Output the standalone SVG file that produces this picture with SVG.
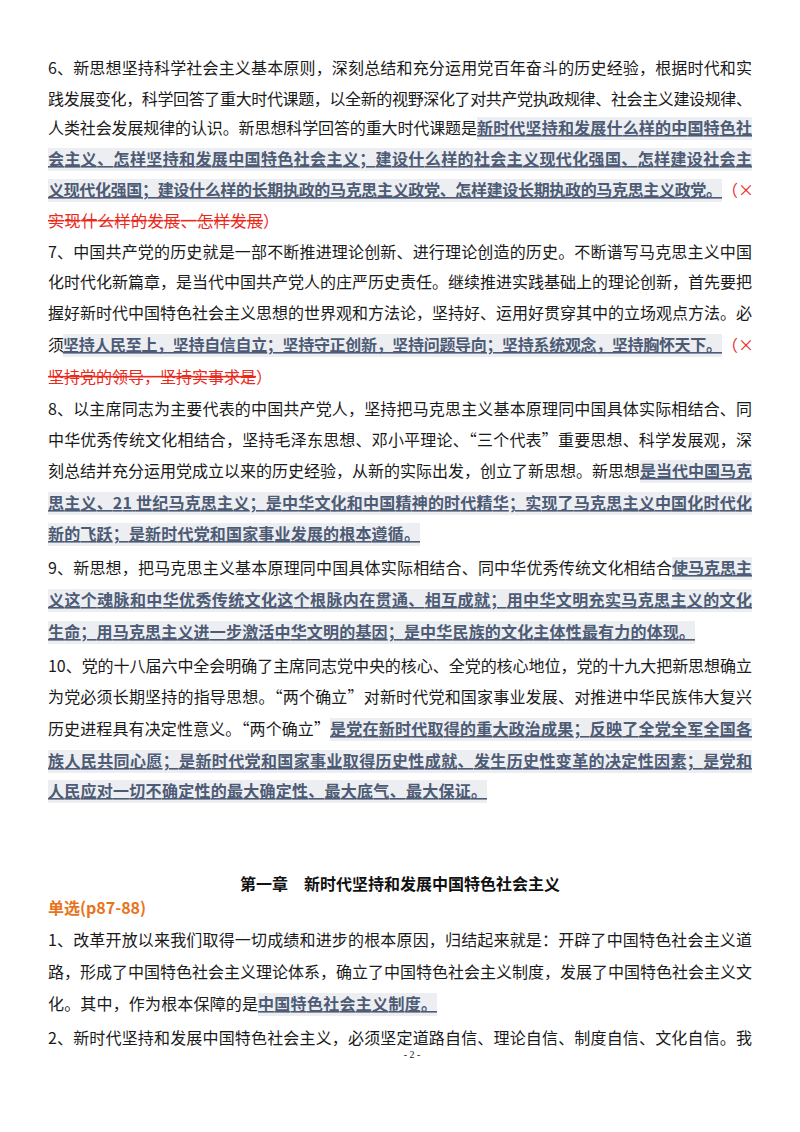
<svg xmlns="http://www.w3.org/2000/svg" width="800" height="1132" viewBox="0 0 800 1132">
<style>
text{font-family:"Noto Sans CJK SC","Liberation Sans",sans-serif;font-size:16px;fill:#1a1a1a}
.h{font-weight:bold;fill:#4d5b75;text-decoration:underline}
.r{fill:#e8291c}
.s{fill:#e8291c;text-decoration:line-through}
.bg{fill:#eceef2}
.t{font-weight:bold;fill:#111}
.o{font-weight:bold;fill:#e8731c}
</style>
<rect width="800" height="1132" fill="#fff"/>
<g id="backgrounds">
<rect class="bg" x="477" y="117" width="275" height="23"/>
<rect class="bg" x="48" y="148" width="704" height="23"/>
<rect class="bg" x="48" y="179" width="674" height="23"/>
<rect class="bg" x="63" y="334" width="659" height="23"/>
<rect class="bg" x="640" y="460" width="112" height="23"/>
<rect class="bg" x="48" y="492" width="704" height="23"/>
<rect class="bg" x="48" y="523" width="372" height="23"/>
<rect class="bg" x="672" y="557" width="80" height="23"/>
<rect class="bg" x="48" y="589" width="704" height="23"/>
<rect class="bg" x="48" y="621" width="647" height="23"/>
<rect class="bg" x="330" y="718" width="422" height="23"/>
<rect class="bg" x="48" y="750" width="704" height="23"/>
<rect class="bg" x="48" y="780" width="439" height="23"/>
<rect class="bg" x="258" y="993" width="179" height="23"/>
</g>
<g id="p6">
<text x="48" y="74" textLength="704" lengthAdjust="spacing">6、新思想坚持科学社会主义基本原则，深刻总结和充分运用党百年奋斗的历史经验，根据时代和实</text>
<text x="48" y="105" textLength="704" lengthAdjust="spacing">践发展变化，科学回答了重大时代课题，以全新的视野深化了对共产党执政规律、社会主义建设规律、</text>
<text x="48" y="134" textLength="429" lengthAdjust="spacing">人类社会发展规律的认识。新思想科学回答的重大时代课题是</text>
<text class="h" x="477" y="134" textLength="275" lengthAdjust="spacing">新时代坚持和发展什么样的中国特色社</text>
<text class="h" x="48" y="165" textLength="704" lengthAdjust="spacing">会主义、怎样坚持和发展中国特色社会主义；建设什么样的社会主义现代化强国、怎样建设社会主</text>
<text class="h" x="48" y="196" textLength="674" lengthAdjust="spacing">义现代化强国；建设什么样的长期执政的马克思主义政党、怎样建设长期执政的马克思主义政党。</text>
<text class="r" x="722" y="196">（×</text>
<text class="s" x="48" y="227" textLength="215" lengthAdjust="spacing">实现什么样的发展、怎样发展</text>
<text class="r" x="263" y="227">）</text>
</g>
<g id="p7">
<text x="48" y="258" textLength="704" lengthAdjust="spacing">7、中国共产党的历史就是一部不断推进理论创新、进行理论创造的历史。不断谱写马克思主义中国</text>
<text x="48" y="288" textLength="704" lengthAdjust="spacing">化时代化新篇章，是当代中国共产党人的庄严历史责任。继续推进实践基础上的理论创新，首先要把</text>
<text x="48" y="319" textLength="704" lengthAdjust="spacing">握好新时代中国特色社会主义思想的世界观和方法论，坚持好、运用好贯穿其中的立场观点方法。必</text>
<text x="48" y="351">须</text>
<text class="h" x="63" y="351" textLength="659" lengthAdjust="spacing">坚持人民至上，坚持自信自立；坚持守正创新，坚持问题导向；坚持系统观念，坚持胸怀天下。</text>
<text class="r" x="722" y="351">（×</text>
<text class="s" x="48" y="383" textLength="208" lengthAdjust="spacing">坚持党的领导，坚持实事求是</text>
<text class="r" x="256" y="383">）</text>
</g>
<g id="p8">
<text x="48" y="415" textLength="704" lengthAdjust="spacing">8、以主席同志为主要代表的中国共产党人，坚持把马克思主义基本原理同中国具体实际相结合、同</text>
<text x="48" y="446" textLength="704" lengthAdjust="spacing">中华优秀传统文化相结合，坚持毛泽东思想、邓小平理论、“三个代表”重要思想、科学发展观，深</text>
<text x="48" y="477" textLength="592" lengthAdjust="spacing">刻总结并充分运用党成立以来的历史经验，从新的实际出发，创立了新思想。新思想</text>
<text class="h" x="640" y="477" textLength="112" lengthAdjust="spacing">是当代中国马克</text>
<text class="h" x="48" y="509" textLength="704" lengthAdjust="spacing">思主义、21 世纪马克思主义；是中华文化和中国精神的时代精华；实现了马克思主义中国化时代化</text>
<text class="h" x="48" y="540" textLength="372" lengthAdjust="spacing">新的飞跃；是新时代党和国家事业发展的根本遵循。</text>
</g>
<g id="p9">
<text x="48" y="574" textLength="624" lengthAdjust="spacing">9、新思想，把马克思主义基本原理同中国具体实际相结合、同中华优秀传统文化相结合</text>
<text class="h" x="672" y="574" textLength="80" lengthAdjust="spacing">使马克思主</text>
<text class="h" x="48" y="606" textLength="704" lengthAdjust="spacing">义这个魂脉和中华优秀传统文化这个根脉内在贯通、相互成就；用中华文明充实马克思主义的文化</text>
<text class="h" x="48" y="638" textLength="647" lengthAdjust="spacing">生命；用马克思主义进一步激活中华文明的基因；是中华民族的文化主体性最有力的体现。</text>
</g>
<g id="p10">
<text x="48" y="672" textLength="704" lengthAdjust="spacing">10、党的十八届六中全会明确了主席同志党中央的核心、全党的核心地位，党的十九大把新思想确立</text>
<text x="48" y="703" textLength="704" lengthAdjust="spacing">为党必须长期坚持的指导思想。“两个确立”对新时代党和国家事业发展、对推进中华民族伟大复兴</text>
<text x="48" y="735" textLength="282" lengthAdjust="spacing">历史进程具有决定性意义。“两个确立”</text>
<text class="h" x="330" y="735" textLength="422" lengthAdjust="spacing">是党在新时代取得的重大政治成果；反映了全党全军全国各</text>
<text class="h" x="48" y="767" textLength="704" lengthAdjust="spacing">族人民共同心愿；是新时代党和国家事业取得历史性成就、发生历史性变革的决定性因素；是党和</text>
<text class="h" x="48" y="797" textLength="439" lengthAdjust="spacing">人民应对一切不确定性的最大确定性、最大底气、最大保证。</text>
</g>
<g id="chapter">
<text class="t" x="400" y="890" text-anchor="middle">第一章　新时代坚持和发展中国特色社会主义</text>
<text class="o" x="48" y="914">单选(p87-88)</text>
</g>
<g id="q1">
<text x="48" y="946" textLength="704" lengthAdjust="spacing">1、改革开放以来我们取得一切成绩和进步的根本原因，归结起来就是：开辟了中国特色社会主义道</text>
<text x="48" y="978" textLength="704" lengthAdjust="spacing">路，形成了中国特色社会主义理论体系，确立了中国特色社会主义制度，发展了中国特色社会主义文</text>
<text x="48" y="1010" textLength="210" lengthAdjust="spacing">化。其中，作为根本保障的是</text>
<text class="h" x="258" y="1010" textLength="179" lengthAdjust="spacing">中国特色社会主义制度。</text>
</g>
<g id="q2">
<text x="48" y="1044" textLength="704" lengthAdjust="spacing">2、新时代坚持和发展中国特色社会主义，必须坚定道路自信、理论自信、制度自信、文化自信。我</text>
<text x="412" y="1058" text-anchor="middle" style="font-size:10px;font-family:'Liberation Serif',serif">- 2 -</text>
</g>
</svg>
